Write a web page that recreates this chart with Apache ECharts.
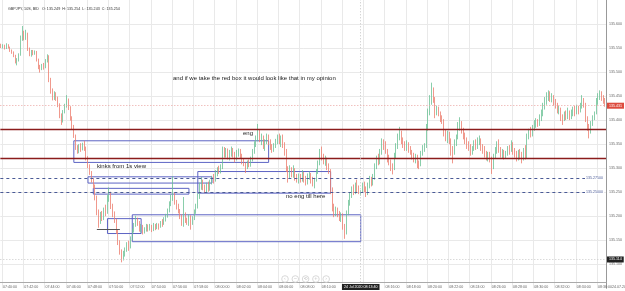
<!DOCTYPE html>
<html>
<head>
<meta charset="utf-8">
<script src="https://cdn.jsdelivr.net/npm/echarts@6/dist/echarts.min.js"></script>
<style>
html, body { margin: 0; padding: 0; background: #fff; }
#main { width: 625px; height: 291px; }
</style>
</head>
<body>
<div id="main"></div>
<script>
// GBPJPY 10s bid candles, prices in thousandths above 135.000
const BASE = 135;
const opens = [
556,552,555,550,556,551,545,541,534,522, 527,536,572,578,570,580,549,538,544,539,
542,526,512,507,514,510,524,533,484,462, 448,455,446,432,410,398,418,430,441,426,
405,386,368,344,336,347,340,349,342,322, 304,292,276,264,240,210,188,205,196,214,
208,236,248,222,205,192,170,146,128,114, 124,130,141,136,155,170,182,193,186,174,
180,170,172,180,174,178,172,181,176,182, 178,186,183,194,200,212,226,238,246,230,
222,212,200,188,205,192,188,198,184,196, 210,220,240,262,270,260,252,262,256,268,
278,274,286,296,292,300,336,328,338,326, 334,340,330,322,332,338,328,316,310,300,
312,306,318,334,350,362,374,360,366,350, 356,368,358,346,340,348,356,364,356,362,
350,336,300,282,296,288,298,284,278,284, 276,288,280,272,282,288,276,268,274,292,
310,330,322,314,320,304,296,256,222,206, 214,206,198,204,180,166,206,228,242,256,
250,262,256,249,254,262,256,246,262,276, 268,278,302,318,312,330,352,346,338,322,
316,304,298,326,344,364,372,358,350,344, 350,340,334,326,320,324,310,306,330,340,
346,384,414,440,456,444,416,424,414,404, 400,376,366,372,360,340,330,352,364,386,
392,380,368,360,350,346,336,340,352,346, 356,360,346,340,332,326,330,320,300,324,
336,346,338,330,334,326,330,340,336,350, 338,330,322,330,326,318,332,322,364,374,
370,382,388,394,390,402,412,426,438,446, 452,444,450,438,432,420,424,408,400,410,
404,416,408,414,420,416,424,418,428,440, 432,404,390,376,392,404,414,436,448,454,
446,440
];
const closes = [
552,555,550,556,551,545,541,534,522,527, 536,572,578,570,580,549,538,544,539,542,
526,512,507,514,510,524,533,484,462,448, 455,446,432,410,398,418,430,441,426,405,
386,368,344,336,347,340,349,342,322,304, 292,276,264,240,210,188,205,196,214,208,
236,248,222,205,192,170,146,128,114,124, 130,141,136,155,170,182,193,186,174,180,
170,172,180,174,178,172,181,176,182,178, 186,183,194,200,212,226,238,246,230,222,
212,200,188,205,192,188,198,184,196,210, 220,240,262,270,260,252,262,256,268,278,
274,286,296,292,300,336,328,338,326,334, 340,330,322,332,338,328,316,310,300,312,
306,318,334,350,362,374,360,366,350,356, 368,358,346,340,348,356,364,356,362,350,
336,300,282,296,288,298,284,278,284,276, 288,280,272,282,288,276,268,274,292,310,
330,322,314,320,304,296,256,222,206,214, 206,198,204,180,166,206,228,242,256,250,
262,256,249,254,262,256,246,262,276,268, 278,302,318,312,330,352,346,338,322,316,
304,298,326,344,364,372,358,350,344,350, 340,334,326,320,324,310,306,330,340,346,
384,414,440,456,444,416,424,414,404,400, 376,366,372,360,340,330,352,364,386,392,
380,368,360,350,346,336,340,352,346,356, 360,346,340,332,326,330,320,300,324,336,
346,338,330,334,326,330,340,336,350,338, 330,322,330,326,318,332,322,364,374,370,
382,388,394,390,402,412,426,438,446,452, 444,450,438,432,420,424,408,400,410,404,
416,408,414,420,416,424,418,428,440,432, 404,390,376,392,404,414,436,448,454,446,
440,431
];
const lows = [
550,549,547,548,549,542,538,531,518,514, 522,534,565,566,567,544,533,532,535,536,
522,506,499,504,505,508,520,479,455,441, 442,440,427,404,390,395,414,426,421,399,
381,363,338,330,331,334,337,336,316,300, 286,270,258,233,202,176,184,190,192,200,
205,230,215,198,186,163,140,120,104,108, 116,126,128,133,150,166,178,180,168,166,
162,164,168,168,170,167,169,171,173,172, 176,178,182,189,197,208,221,232,224,214,
206,194,180,178,186,182,180,172,182,192, 205,216,236,255,254,248,248,251,253,266,
268,272,283,288,289,298,322,322,318,316, 324,322,312,316,324,320,308,304,290,298,
302,303,314,330,344,356,354,348,340,336, 350,348,338,332,334,342,350,350,344,342,
326,292,270,278,281,280,274,270,268,270, 272,270,264,266,276,268,262,258,272,288,
306,316,308,305,296,288,246,210,198,200, 198,190,188,172,153,162,202,222,238,244,
246,248,246,243,250,250,240,244,258,262, 264,276,298,306,308,328,338,330,312,306,
294,287,296,320,340,358,350,342,336,336, 332,328,318,312,310,300,298,304,326,334,
342,378,410,432,436,404,410,408,396,392, 366,356,352,350,326,310,328,346,360,378,
372,360,350,340,336,326,328,336,338,340, 348,336,330,322,316,314,312,288,298,320,
330,332,322,320,318,320,326,328,334,328, 322,314,316,318,310,316,318,320,360,364,
366,378,384,386,388,398,408,422,432,440, 438,437,430,424,414,412,398,390,398,400,
402,400,402,408,408,412,412,416,424,426, 396,378,362,372,388,400,412,432,442,440,
434,428
];
const highs = [
559,558,557,560,558,553,547,543,536,529, 539,576,596,586,588,582,551,546,546,545,
544,528,515,517,519,527,537,535,488,466, 460,458,449,435,414,421,434,452,445,429,
408,390,370,348,350,352,353,357,345,325, 308,294,279,266,243,214,209,211,218,224,
244,260,251,226,210,195,173,150,131,128, 135,146,149,158,174,186,201,197,190,184,
182,177,184,183,184,182,186,184,186,185, 190,194,198,205,216,231,245,283,250,234,
226,215,204,240,208,197,204,202,200,214, 226,248,270,282,276,266,270,272,276,284,
288,296,302,305,308,345,344,342,341,338, 345,342,334,338,341,340,330,320,312,316,
318,324,340,356,368,392,380,372,368,360, 372,370,360,350,352,361,370,372,368,370,
354,340,304,306,302,306,300,288,289,288, 296,292,284,289,293,290,282,280,298,316,
340,345,330,326,322,310,298,260,226,220, 218,211,208,206,184,212,234,250,262,266,
270,276,264,254,270,272,262,270,284,282, 288,310,326,330,340,362,360,356,340,328,
318,310,332,352,372,386,378,364,356,358, 354,346,338,332,330,328,316,336,348,352,
392,424,452,478,468,448,430,428,418,410, 402,380,378,376,362,346,360,370,396,406,
398,384,374,364,356,350,346,358,360,364, 368,362,350,346,336,334,334,324,330,344,
356,360,344,340,338,336,346,348,358,354, 342,336,338,340,334,342,348,372,382,386,
390,400,404,402,412,422,436,448,458,462, 460,456,452,444,436,430,426,412,418,420,
426,420,422,428,430,432,430,436,452,446, 436,408,392,398,410,418,446,456,462,460,
452,446
];

const startSeconds = 7 * 3600 + 39 * 60 + 50;
const barSeconds = 10;
const crosshairIndex = 203;

// levels drawn on the chart
const redBoxLevels = [135.384, 135.316];
const dashedLevels = [135.275, 135.25];
const lastPrice = 135.431;
const lowMark = 135.114;
const markSegment = [54, 67, 135.172];
// boxes: [startIndex, topPrice, endIndex, bottomPrice]
const boxes = [
    [41, 135.357, 151, 135.312],
    [49, 135.282, 119, 135.269],
    [52, 135.258, 106, 135.246],
    [111, 135.293, 186, 135.248],
    [60, 135.195, 79, 135.164],
    [74, 135.203, 203, 135.147]
];

function pad(n) { return (n < 10 ? '0' : '') + n; }
const times = opens.map((o, i) => {
    let s = startSeconds + i * barSeconds;
    return pad(Math.floor(s / 3600)) + ':' + pad(Math.floor(s / 60) % 60) + ':' + pad(s % 60);
});
const candles = opens.map((o, i) => [
    BASE + o / 1000, BASE + closes[i] / 1000, BASE + lows[i] / 1000, BASE + highs[i] / 1000
]);

const everyTwoMin = (idx) => idx % 12 === 1;
const FONT = 'Liberation Sans';

let markLines = [];
redBoxLevels.forEach(v => markLines.push({
    yAxis: v, label: { show: false },
    lineStyle: { color: '#8b1c1c', width: 1.4, type: 'solid' }
}));
dashedLevels.forEach(v => markLines.push({
    yAxis: v,
    label: {
        show: true, position: 'insideEnd', distance: 2, formatter: v.toFixed(5),
        fontSize: 3.6, color: '#4a5a96', backgroundColor: '#fff', padding: [0, 1], fontFamily: FONT
    },
    lineStyle: { color: '#4a5a96', width: 1, type: [3, 3] }
}));
markLines.push({
    yAxis: lastPrice,
    label: {
        show: true, position: 'end', distance: 1, formatter: lastPrice.toFixed(3),
        fontSize: 3.6, color: '#fff', backgroundColor: '#dd4b3e', padding: [1, 2], fontFamily: FONT
    },
    lineStyle: { color: '#eaa3a0', width: 1, type: [1, 2] }
});
markLines.push({
    yAxis: lowMark,
    label: {
        show: true, position: 'end', distance: 1, formatter: lowMark.toFixed(3),
        fontSize: 3.6, color: '#fff', backgroundColor: '#222', padding: [1, 2], fontFamily: FONT
    },
    lineStyle: { color: '#c8c8c8', width: 1, type: [1, 2] }
});
markLines.push({
    xAxis: crosshairIndex, label: { show: false },
    lineStyle: { color: '#c4c4c4', width: 1, type: [1, 2] }
});
markLines.push([
    { coord: [markSegment[0], markSegment[2]], lineStyle: { color: '#555', width: 1, type: 'solid' }, label: { show: false } },
    { coord: [markSegment[1], markSegment[2]] }
]);

let option = {
    animation: false,
    backgroundColor: '#fff',
    title: {
        text: 'GBPJPY, 10S, BID   O: 135.249  H: 135.254  L: 135.243  C: 135.254',
        left: 3, top: 2,
        textStyle: { fontSize: 3.7, fontWeight: 'normal', color: '#333', fontFamily: FONT }
    },
    grid: { left: 0, right: 17, top: -3.3, height: 291.6 },
    xAxis: {
        type: 'category',
        data: times,
        boundaryGap: true,
        offset: -6.3,
        axisLine: { show: true, lineStyle: { color: '#aaa' } },
        axisTick: { show: false },
        axisLabel: {
            interval: everyTwoMin, align: 'left', margin: 3,
            fontSize: 3.6, color: '#666', fontFamily: FONT
        },
        splitLine: { show: true, interval: everyTwoMin, lineStyle: { color: '#e9e9e9', width: 1 } }
    },
    yAxis: {
        type: 'value',
        position: 'right',
        min: 135.05, max: 135.65, interval: 0.05,
        axisLine: { show: true, lineStyle: { color: '#999' } },
        axisTick: { show: false },
        axisLabel: {
            margin: 3, fontSize: 3.6, color: '#666', fontFamily: FONT,
            showMinLabel: false, showMaxLabel: false,
            formatter: (v) => v.toFixed(3)
        },
        splitLine: { show: true, showMinLine: false, showMaxLine: false, lineStyle: { color: '#e9e9e9', width: 1 } }
    },
    series: [{
        type: 'candlestick',
        data: candles,
        barWidth: 0.7,
        itemStyle: {
            color: '#6cc296', color0: '#ec7f70',
            borderColor: '#6cc296', borderColor0: '#ec7f70', borderWidth: 0.8
        },
        markLine: { symbol: ['none', 'none'], silent: true, animation: false, data: markLines },
        markArea: {
            silent: true,
            itemStyle: { color: 'rgba(0,0,0,0)', borderColor: '#5d64c4', borderWidth: 1 },
            data: boxes.map(b => [{ coord: [b[0], b[1]] }, { coord: [b[2], b[3]] }])
        }
    }]
};

var myChart = echarts.init(document.getElementById('main'));
myChart.setOption(option);

// annotations and crosshair box
let cx = myChart.convertToPixel({ xAxisIndex: 0 }, crosshairIndex);
const notes = [
    { text: 'and if we take the red box it would look like that in my opinion', x: 173, y: 79 },
    { text: 'eng', x: 243, y: 134 },
    { text: 'kinks from 1s view', x: 97, y: 167 },
    { text: 'no eng till here', x: 286, y: 197 }
];
let graphics = notes.map(n => ({
    type: 'text', left: n.x, top: n.y - 4, z: 100,
    style: { text: n.text, fontSize: 6, fill: '#222', fontFamily: FONT }
}));
graphics.push({
    type: 'text', x: cx, y: 287, z: 100,
    style: {
        text: '24 Jul 2020 ' + times[crosshairIndex], fontSize: 3.6, fill: '#fff', fontFamily: FONT,
        backgroundColor: '#222', padding: [1, 2], align: 'center', verticalAlign: 'middle'
    }
});
graphics.push({
    type: 'text', x: 612, y: 287, z: 100,
    style: { text: '24.07.2020', fontSize: 3.6, fill: '#666', fontFamily: FONT, verticalAlign: 'middle' }
});
const navIcons = ['‹', '−', '⟲', '+', '›'];
navIcons.forEach((s, k) => {
    graphics.push({
        type: 'circle', shape: { cx: 285 + k * 10.3, cy: 279, r: 3.3 }, z: 100,
        style: { fill: '#fff', stroke: '#cfcfcf', lineWidth: 0.8 }
    });
    graphics.push({
        type: 'text', x: 285 + k * 10.3, y: 279, z: 101,
        style: { text: s, fontSize: 4.5, fill: '#bbb', align: 'center', verticalAlign: 'middle', fontFamily: 'DejaVu Sans' }
    });
});
myChart.setOption({ graphic: graphics });
</script>
</body>
</html>
